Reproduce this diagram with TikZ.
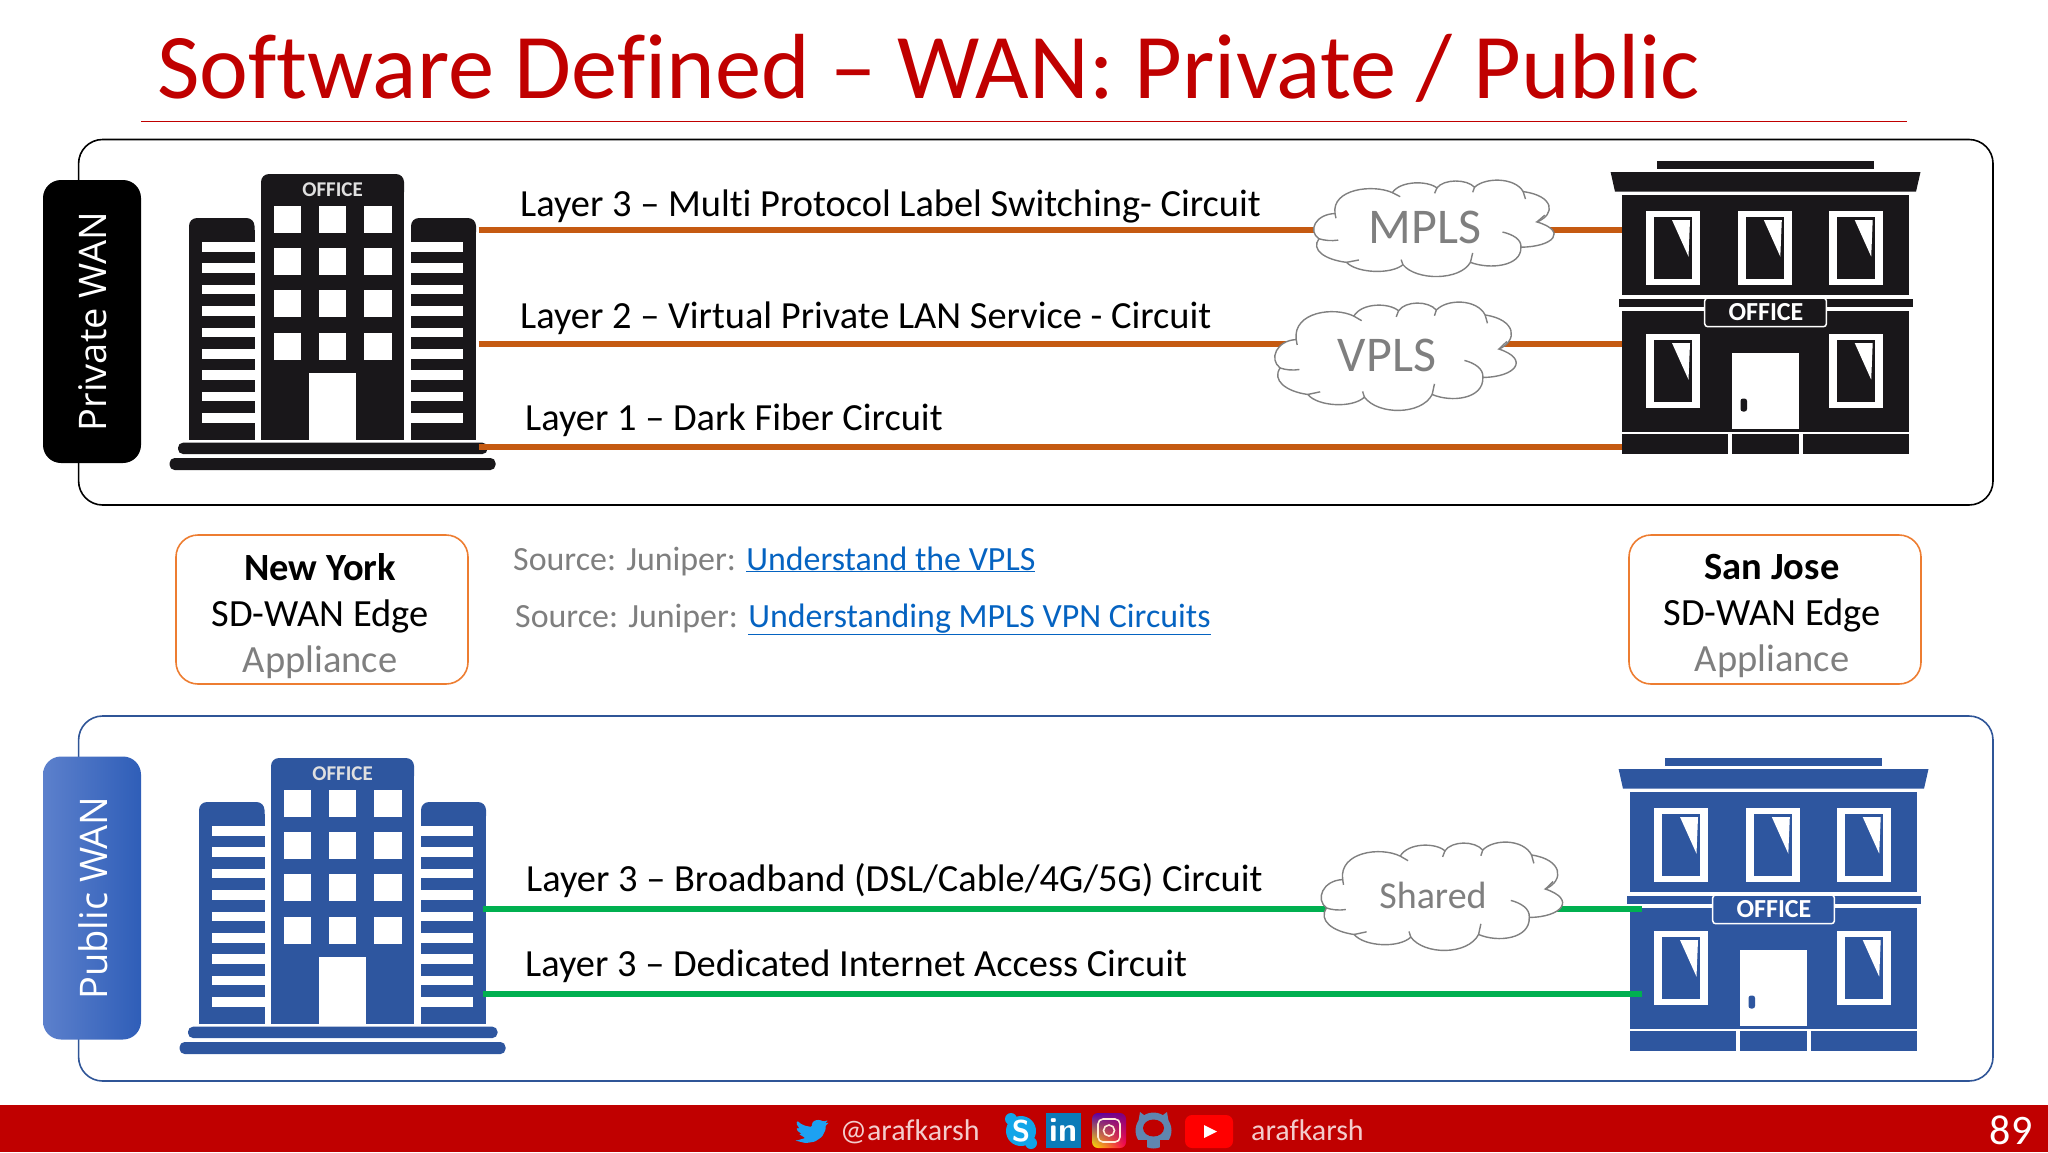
\documentclass[tikz,border=0pt]{standalone}
\usepackage{fontspec}
\usepackage{tikz}
\usetikzlibrary{positioning, shadings}
\setmainfont[Ligatures=CommonOff]{Carlito}
\newfontfamily\tagfont{Open Sans}

\definecolor{titlered}{HTML}{C00000}
\definecolor{circuitorange}{HTML}{C55A11}
\definecolor{boxorange}{HTML}{ED7D31}
\definecolor{circuitgreen}{HTML}{00B050}
\definecolor{linkblue}{HTML}{0563C1}
\definecolor{panelblue}{HTML}{2F5597}
\definecolor{bldgblue}{HTML}{2E569F}
\definecolor{softgray}{HTML}{7F7F7F}
\definecolor{bldgblack}{HTML}{19171A}
\definecolor{tagleft}{HTML}{5C80CC}
\definecolor{tagright}{HTML}{2F5EB8}
\definecolor{twitblue}{HTML}{1DA1F2}
\definecolor{skypeblue}{HTML}{12A5E8}
\definecolor{lnkdblue}{HTML}{0B7BB8}
\definecolor{ghblue}{HTML}{5F86B0}

\newcommand{\px}[1]{\fontsize{#1pt}{1.2\dimexpr#1pt\relax}\selectfont}

% Office tower, drawn at its place in the upper panel.
\newcommand{\towerbldg}[1]{
	\fill[#1, rounded corners=8pt] (261,174) rectangle (404,200);
	\fill[#1] (261,190) rectangle (404,440);
	\fill[#1, rounded corners=8pt] (189,218) rectangle (254.5,240);
	\fill[#1] (189,230) rectangle (254.5,440);
	\fill[#1, rounded corners=8pt] (411,218) rectangle (476,240);
	\fill[#1] (411,230) rectangle (476,440);
	\foreach \row in {0,...,8} {
		\fill[white] (202,242+21.4*\row) rectangle ++(52.5,9.5);
		\fill[white] (411,242+21.4*\row) rectangle ++(52,9.5);
	}
	\foreach \col in {273.7,319,364.2} {
		\foreach \row in {205.7,248,290.2,332.7} {
			\fill[white] (\col,\row) rectangle ++(27.3,26.8);
		}
	}
	\fill[white] (309,373) rectangle (356,440);
	\node[font=\bfseries\px{21}, text=white!88!black] at (332.6,190) {OFFICE};
	\fill[#1, rounded corners=5pt] (178,442.7) rectangle (487.5,454);
	\fill[#1, rounded corners=5pt] (169.6,458) rectangle (495.5,470);
}

% One framed window with its glint.
\newcommand{\bldgwindow}[3]{
	\fill[white] (#1,#2) rectangle ++(54,74);
	\fill[#3] (#1+8,#2+6.3) rectangle ++(38,61.4);
	\fill[white] (#1+26,#2+9) -- (#1+44,#2+9) -- (#1+42.5,#2+45.7) -- cycle;
}

% Two floor building, drawn at its place in the upper panel.
\newcommand{\officebldg}[1]{
	\fill[#1] (1657.4,161) rectangle (1873.7,169);
	\fill[#1] (1610.6,172) -- (1920.5,172) -- (1916,191.7) -- (1615,191.7) -- cycle;
	\fill[#1] (1622,195) rectangle (1909,295);
	\fill[#1] (1618.8,299) rectangle (1912.7,306.7);
	\fill[#1] (1622,310.7) rectangle (1909,431.7);
	\fill[#1] (1622,434) rectangle (1727.7,454);
	\fill[#1] (1732,434) rectangle (1798.8,454);
	\fill[#1] (1803.4,434) rectangle (1909,454);
	\foreach \col in {1646,1737.8,1828.7} {
		\bldgwindow{\col}{211}{#1}
	}
	\foreach \col in {1646,1828.7} {
		\bldgwindow{\col}{334}{#1}
	}
	\fill[white] (1732,353) rectangle (1798.8,429);
	\fill[#1, rounded corners=2.5pt] (1740.5,398.5) rectangle ++(6.5,13);
	\draw[white, fill=#1, line width=1.5pt, rounded corners=3pt] (1704.7,298) rectangle (1826.4,326.7);
	\node[font=\bfseries\px{26}, text=white] at (1766,311.7) {OFFICE};
}

% Cloud outline in a 523 by 288 box: centre x, centre y, width, height.
\newcommand{\cloudpuff}[4]{
	\begin{scope}[shift={(#1-#3/2,#2-#4/2)}, x=1pt*#3/523, y=-1pt*#4/288]
		\draw[cloudline, fill=white] (48,98) .. controls (40,25) and (130,10) .. (173,36)
			.. controls (190,0) and (250,0) .. (270,22)
			.. controls (285,-5) and (335,-5) .. (352,20)
			.. controls (375,-10) and (440,-10) .. (458,33)
			.. controls (525,45) and (530,100) .. (488,123)
			.. controls (555,150) and (525,197) .. (453,198)
			.. controls (455,255) and (385,265) .. (343,243)
			.. controls (320,298) and (225,298) .. (196,250)
			.. controls (170,280) and (95,275) .. (73,243)
			.. controls (25,235) and (-5,205) .. (13,173)
			.. controls (-12,150) and (5,100) .. (48,98) -- cycle;
		\draw[cloudline] (13,173) .. controls (25,178) and (40,180) .. (55,177);
		\draw[cloudline] (48,98) -- (50,112);
		\draw[cloudline] (173,36) -- (190,48);
		\draw[cloudline] (270,22) -- (265,38);
		\draw[cloudline] (352,20) -- (348,35);
		\draw[cloudline] (458,33) -- (463,55);
		\draw[cloudline] (488,123) -- (505,103);
		\draw[cloudline] (453,198) .. controls (455,175) and (435,160) .. (413,153);
		\draw[cloudline] (343,243) -- (348,215);
		\draw[cloudline] (196,250) -- (192,235);
		\draw[cloudline] (73,243) -- (100,236);
	\end{scope}
}

\begin{document}
\begin{tikzpicture}[
		x=1pt, y=-1pt,
		panel/.style = {draw, line width=1.6pt, rounded corners=24pt},
		wantag/.style = {rounded corners=18pt, minimum width=98pt, minimum height=283pt, inner sep=0pt},
		tagtext/.style = {font=\tagfont\px{38}, text=white, rotate=90},
		circuit/.style = {line width=6pt},
		layer/.style = {font=\px{38.4}, anchor=base west, inner sep=0pt},
		cloudbox/.style = {inner sep=0pt},
		cloudline/.style = {draw=gray, line width=1.4pt},
		cloudtext/.style = {text=softgray},
		sitebox/.style = {draw=boxorange, line width=1.6pt, rounded corners=22pt,
			minimum width=292pt, minimum height=149pt, inner sep=0pt},
		sitetext/.style = {align=center, font=\px{38.5}, inner sep=0pt},
		source/.style = {font=\px{33.9}, text=softgray, anchor=base west, inner sep=0pt},
		foot/.style = {font=\px{30}, text=white!80!titlered, anchor=base west, inner sep=0pt}
	]
	\useasboundingbox (0,0) rectangle (2048,1152);

	% Title.
	\node[font=\px{92.5}, text=titlered, anchor=base west, inner sep=0pt] (title) at (157,98) {Software Defined – WAN: Private / Public};
	\coordinate (rulea) at (141,121.5);
	\coordinate (ruleb) at (1907,121.5);
	\draw[titlered, line width=1pt] (rulea) -- (ruleb);

	% Private WAN.
	\draw[panel, draw=black] (78.6,139.5) rectangle (1993,505);
	\node[wantag, fill=black] (prv) at (92,321.5) {};
	\node[tagtext] at (93,321.5) {Private WAN};
	\towerbldg{bldgblack}
	\officebldg{bldgblack}
	\node[cloudbox, minimum width=240pt, minimum height=97pt] (mpls) at (1433,229) {};
	\node[cloudbox, minimum width=241pt, minimum height=109pt] (vpls) at (1394.6,357) {};
	\coordinate (nya) at (478.6,230);
	\coordinate (nyb) at (478.6,344);
	\coordinate (nyc) at (478.6,446.7);
	\coordinate (sja) at (1622,230);
	\coordinate (sjb) at (1622,344);
	\coordinate (sjc) at (1622,446.7);
	\draw[circuit, circuitorange] (nya) to (nya -| mpls.center);
	\draw[circuit, circuitorange] (mpls.center |- sja) to (sja);
	\draw[circuit, circuitorange] (nyb) to (nyb -| vpls.center);
	\draw[circuit, circuitorange] (vpls.center |- sjb) to (sjb);
	\draw[circuit, circuitorange] (nyc) to (sjc);
	\cloudpuff{1433}{229}{240}{97}
	\cloudpuff{1394.6}{357}{241}{109}
	\node[cloudtext, font=\px{50}] (mplstext) at (1425,227) {MPLS};
	\node[cloudtext, font=\px{50}] (vplstext) at (1387,355) {VPLS};
	\node[layer] (lthree) at (520,216) {Layer 3 – Multi Protocol Label Switching- Circuit};
	\node[layer] (ltwo) at (520,328) {Layer 2 – Virtual Private LAN Service - Circuit};
	\node[layer] (lone) at (525,430) {Layer 1 – Dark Fiber Circuit};

	% Sites and sources.
	\node[sitebox] (ny) at (322,609.5) {};
	\node[sitebox] (sj) at (1775,609.5) {};
	\node[sitetext] (nytext) at (320,616) {\textbf{New York}\\SD-WAN Edge\\\textcolor{softgray}{Appliance}};
	\node[sitetext] (sjtext) at (1772,616) {\textbf{San Jose}\\SD-WAN Edge\\\textcolor{softgray}{Appliance}};
	\node[source] (srca) at (513,570) {Source: Juniper: \textcolor{linkblue}{\underline{Understand the VPLS}}};
	\node[source] (srcb) at (515,627) {Source: Juniper: \textcolor{linkblue}{\underline{Understanding MPLS VPN Circuits}}};

	% Public WAN.
	\draw[panel, draw=panelblue] (78.6,716) rectangle (1993,1081);
	\node[wantag, left color=tagleft, right color=tagright] (pub) at (92,898) {};
	\node[tagtext] at (93,898) {Public WAN};
	\begin{scope}[shift={(10,584)}]
		\towerbldg{bldgblue}
	\end{scope}
	\begin{scope}[shift={(8,597)}]
		\officebldg{bldgblue}
	\end{scope}
	\node[cloudbox, minimum width=241pt, minimum height=109pt] (shared) at (1441,897) {};
	\coordinate (nyd) at (483,909);
	\coordinate (nye) at (483,994);
	\coordinate (sjd) at (1642,909);
	\coordinate (sje) at (1641.5,994);
	\draw[circuit, circuitgreen] (nyd) to (nyd -| shared.center);
	\draw[circuit, circuitgreen] (shared.center |- sjd) to (sjd);
	\draw[circuit, circuitgreen] (nye) to (sje);
	\cloudpuff{1441}{897}{241}{109}
	\node[cloudtext, font=\px{38}] (sharedtext) at (1433,895) {Shared};
	\node[layer] (lbroad) at (526,891) {Layer 3 – Broadband (DSL/Cable/4G/5G) Circuit};
	\node[layer] (ldia) at (525,976) {Layer 3 – Dedicated Internet Access Circuit};

	% Footer.
	\fill[titlered] (0,1105) rectangle (2048,1152);
	\begin{scope}[shift={(795,1117)}, x=1.42pt, y=-1.2pt]
		\fill[twitblue, rounded corners=1pt] (23.95,4.57) -- (21.13,5.35) -- (23.29,2.62) -- (20.16,3.8) -- (18,2.6) -- (15.5,2.4) -- (13,3.5) -- (11.9,5.8) -- (11.78,8.29) -- (7.4,7.4) -- (4,5.6) -- (1.64,3.16) -- (1,5.6) -- (3.16,9.73) -- (0.93,9.12) -- (2,12) -- (4.88,14) -- (2.67,14.1) -- (7.27,17.5) -- (1.17,19.6) -- (0,19.54) -- (7.56,21.75) -- (14,20.5) -- (19,16.5) -- (21.55,10.5) -- (21.54,7.13) -- cycle;
	\end{scope}
	\node[foot] (twit) at (840,1140) {@arafkarsh};
	\fill[skypeblue] (1011,1119) circle (6pt);
	\fill[skypeblue] (1031,1143) circle (6pt);
	\node[circle, fill=skypeblue, minimum size=30pt, inner sep=0pt, text=white, font=\bfseries\sffamily\px{30}] (skype) at (1021,1131) {S};
	\node[fill=lnkdblue, minimum width=35pt, minimum height=35pt, inner sep=0pt, text=white, font=\bfseries\sffamily\px{34}] (lnkd) at (1063.5,1130.5) {in};
	\shade[upper left=violet!70!blue, upper right=violet, lower left=yellow!80!orange, lower right=red!70!magenta, rounded corners=6pt] (1092,1113) rectangle (1126,1148);
	\draw[white!85!orange, line width=1.6pt, rounded corners=5pt] (1098,1119) rectangle (1120,1142);
	\draw[white!85!orange, line width=1.6pt] (1109,1130.5) circle (5.5pt);
	% GitHub cat.
	\fill[ghblue] (1153.5,1130.5) circle (18pt);
	\fill[ghblue] (1140,1112) -- (1148,1118) -- (1138,1124) -- cycle;
	\fill[ghblue] (1167,1112) -- (1159,1118) -- (1169,1124) -- cycle;
	\fill[titlered] (1153.5,1128) ellipse (10.5pt and 8.5pt);
	\fill[titlered] (1136,1140) -- (1147,1140) -- (1147,1149) -- (1136,1149) -- cycle;
	\fill[titlered] (1160,1140) -- (1171,1140) -- (1171,1149) -- (1160,1149) -- cycle;
	\fill[red, rounded corners=7pt] (1185,1115) rectangle (1233,1148);
	\fill[white] (1204,1125) -- (1217,1131.5) -- (1204,1138) -- cycle;
	\node[foot] (yout) at (1251,1140) {arafkarsh};
	\node[font=\px{42}, text=white] (pageno) at (2011,1130) {89};
\end{tikzpicture}
\end{document}
